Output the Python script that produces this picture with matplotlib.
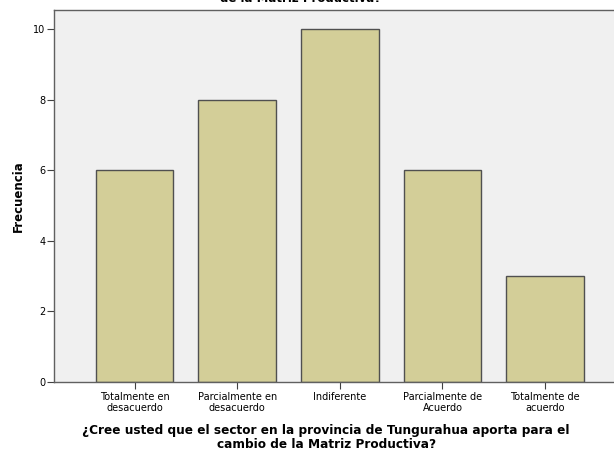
import matplotlib
matplotlib.use("Agg")
import matplotlib.pyplot as plt

categories = ["Totalmente en\ndesacuerdo", "Parcialmente en\ndesacuerdo", "Indiferente",
              "Parcialmente de\nAcuerdo", "Totalmente de\nacuerdo"]
frecuencia = [6, 8, 10, 6, 3]
yticks = [0, 2, 4, 6, 8, 10]
question = ("¿Cree usted que el sector en la provincia de Tungurahua aporta para el\n"
            "cambio de la Matriz Productiva?")
title = ("¿Cree usted que el sector en la provincia de Tungurahua aporta para el cambio\n"
         "de la Matriz Productiva?")

plt.rcParams['font.family'] = ['DejaVu Sans']

fig = plt.figure(figsize=(6.14, 4.54), dpi=100)
# the plot area runs past the right edge of the picture, as in the original export
ax = fig.add_axes([0.088, 0.1586, 0.931, 0.8194])
ax.set_facecolor('#f0f0f0')

x = list(range(len(categories)))
ax.bar(x, frecuencia, width=0.756, color='#d3ce98', edgecolor='#505050', linewidth=1.0)

ax.set_xlim(-0.785, 4.785)
ax.set_ylim(0, 10.55)
ax.set_yticks(yticks)
ax.set_xticks(x)
ax.set_xticklabels(categories, fontsize=7, linespacing=1.1)
ax.tick_params(axis='y', labelsize=7, length=5, width=0.8, color='#404040', pad=1)
ax.tick_params(axis='x', length=5, width=0.8, color='#404040', pad=2)
for s in ax.spines.values():
    s.set_color('#606060')
    s.set_linewidth(1.0)

ax.set_ylabel('Frecuencia', fontsize=8.5, fontweight='bold', labelpad=6)
ax.set_xlabel(question, fontsize=8.7, fontweight='bold', linespacing=1.1)
ax.xaxis.set_label_coords(0.476, -0.114)

fig.text(0.49, 0.988, title, fontsize=8.5, fontweight='bold', ha='center', va='bottom',
         linespacing=1.0)

fig.savefig('out.png', dpi=100)
